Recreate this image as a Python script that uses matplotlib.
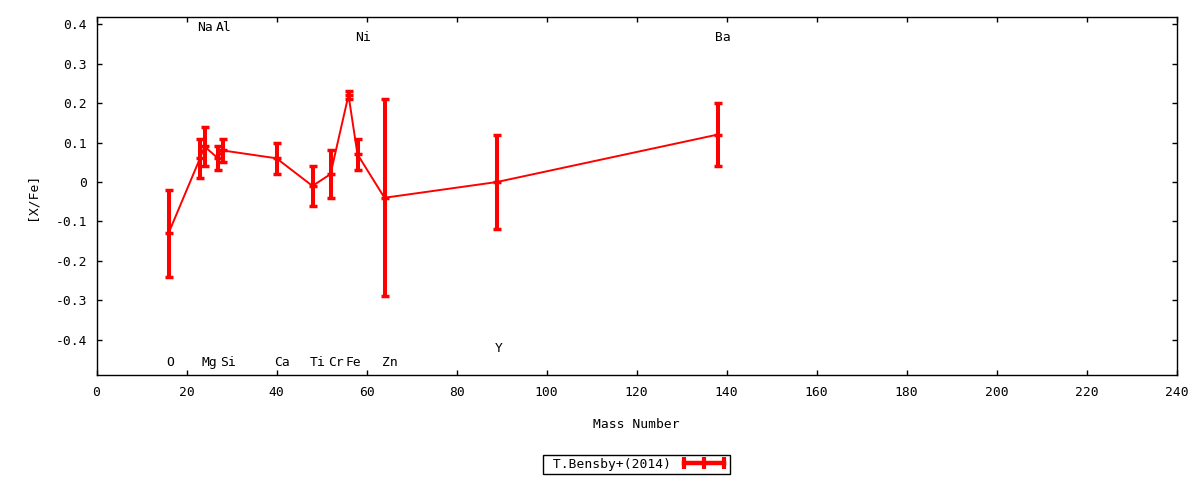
import numpy as np
import matplotlib
matplotlib.use("Agg")
import matplotlib.pyplot as plt
from matplotlib.lines import Line2D

# -----------------------------
# Daten
# -----------------------------
elements = ["O", "Na", "Mg", "Al", "Si", "Ca", "Ti", "Cr", "Fe", "Ni", "Zn", "Y", "Ba"]
mass = [16, 23, 24, 27, 28, 40, 48, 52, 56, 58, 64, 89, 138]
x_fe = [-0.13, 0.06, 0.09, 0.06, 0.08, 0.06, -0.01, 0.02, 0.22, 0.07, -0.04, 0.00, 0.12]
x_fe_err = [0.11, 0.05, 0.05, 0.03, 0.03, 0.04, 0.05, 0.06, 0.01, 0.04, 0.25, 0.12, 0.08]
series_label = "T.Bensby+(2014)"

xticks = list(range(0, 241, 20))
yticks = [0.4, 0.3, 0.2, 0.1, 0.0, -0.1, -0.2, -0.3, -0.4]
ytick_labels = ["0.4", "0.3", "0.2", "0.1", "0", "-0.1", "-0.2", "-0.3", "-0.4"]

# Höhe der Elementnamen (Datenkoordinaten)
label_rows = {"Na": 0.392, "Al": 0.392, "Ni": 0.367, "Ba": 0.367, "Y": -0.423}
label_default = -0.458

# -----------------------------
# Plot
# -----------------------------
plt.rcParams["font.family"] = ["DejaVu Sans Mono"]
plt.rcParams["font.size"] = 9.4

fig = plt.figure(figsize=(12, 4.8), dpi=100)
ax = fig.add_axes([96.5 / 1200, 105 / 480, 1080 / 1200, 358 / 480])

red = "#ff0000"
ax.plot(mass, x_fe, color=red, lw=1.4, zorder=2)
ax.errorbar(mass, x_fe, yerr=x_fe_err, fmt="_", ms=6, mew=2.5, color=red,
            ecolor=red, elinewidth=2.9, capsize=3, capthick=2.5, zorder=3)

for el, m in zip(elements, mass):
    ax.text(m - 0.6, label_rows.get(el, label_default), el,
            ha="left", va="center", color="black")

ax.set_xlim(0, 240)
ax.set_ylim(-0.489, 0.418)
ax.set_xticks(xticks)
ax.set_yticks(yticks)
ax.set_yticklabels(ytick_labels)
ax.tick_params(direction="in", top=True, right=True, length=3.6, width=1)
ax.tick_params(axis="x", pad=8)
ax.tick_params(axis="y", pad=7)
for s in ax.spines.values():
    s.set_linewidth(1)

ax.set_xlabel("Mass Number", va="center", ha="center")
ax.xaxis.set_label_coords(0.5, -(425 - 375) / 358)
ax.set_ylabel("[X/Fe]", va="center", ha="center")
ax.yaxis.set_label_coords(-(96.5 - 32) / 1080, 0.5)

# Legende im gnuplot-Stil: Text links, Fehlerbalken-Symbol rechts
handle = Line2D([], [], color=red, lw=3.2, marker="|", ms=8, mew=3)
leg = ax.legend([handle], [" " + series_label], loc="upper center",
                bbox_to_anchor=(0.5, -(455 - 375) / 358), numpoints=3,
                markerfirst=False, fancybox=False, framealpha=1,
                edgecolor="black", borderpad=0.22, handlelength=3.6,
                handletextpad=0.7, borderaxespad=0)
leg.get_frame().set_linewidth(1)

fig.savefig("out.png", dpi=100)
